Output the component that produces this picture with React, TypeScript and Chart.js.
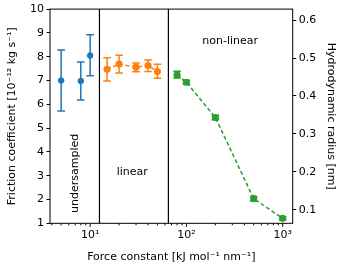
import React, { useEffect, useRef } from "react";
import { Chart, registerables } from "chart.js";
Chart.register(...registerables);

const blueX = [5, 8, 10];
const blueY = [7.0, 6.98, 8.05];
const blueLow = [5.72, 6.18, 7.2];
const blueHigh = [8.28, 7.78, 8.92];

const orangeX = [15, 20, 30, 40, 50];
const orangeY = [7.47, 7.69, 7.56, 7.63, 7.38];
const orangeLow = [6.98, 7.32, 7.37, 7.38, 7.09];
const orangeHigh = [7.96, 8.06, 7.74, 7.86, 7.68];

const greenX = [80, 100, 200, 500, 1000];
const greenY = [0.456, 0.436, 0.343, 0.129, 0.077];
const greenLow = [0.447, 0.431, 0.337, 0.123, 0.073];
const greenHigh = [0.465, 0.441, 0.349, 0.135, 0.081];

const regionBounds = [12.5, 65];
const regionLabels = ["undersampled", "linear", "non-linear"];
const regionLabelX = [6.98, 27.4, 285];
const regionLabelY = [3.1, 3.17, 8.66];
const regionLabelVertical = [true, false, false];

const xMajorTicks = [10, 100, 1000];
const xMajorLabels = ["10¹", "10²", "10³"];
const xMinorTicks = [4, 5, 6, 7, 8, 9, 20, 30, 40, 50, 60, 70, 80, 90, 200, 300, 400, 500, 600, 700, 800, 900];
const leftTicks = [1, 2, 3, 4, 5, 6, 7, 8, 9, 10];
const rightTicks = [0.1, 0.2, 0.3, 0.4, 0.5, 0.6];

const xMin = 3.83;
const xMax = 1271;
const yMin = 1;
const yMax = 10;
const y2Min = 0.064;
const y2Max = 0.629;

const FONT = "DejaVu Sans";
const BLUE = "#1f77b4";
const ORANGE = "#ff7f0e";
const GREEN = "#2ca02c";

const toPts = (xs: number[], ys: number[]) => xs.map((x, i) => ({ x, y: ys[i] }));

const overlay = {
  id: "overlay",
  beforeDatasetsDraw(chart: any) {
    const { ctx, chartArea: a, scales } = chart;
    const x = scales.x;
    ctx.save();
    ctx.strokeStyle = "#000";
    ctx.lineWidth = 1.2;
    for (const b of regionBounds) {
      const px = x.getPixelForValue(b);
      ctx.beginPath();
      ctx.moveTo(px, a.top);
      ctx.lineTo(px, a.bottom);
      ctx.stroke();
    }
    const drawErr = (xs: number[], lo: number[], hi: number[], ys: any, color: string) => {
      ctx.strokeStyle = color;
      ctx.lineWidth = 1.5;
      for (let i = 0; i < xs.length; i++) {
        const px = x.getPixelForValue(xs[i]);
        const p1 = ys.getPixelForValue(lo[i]);
        const p2 = ys.getPixelForValue(hi[i]);
        ctx.beginPath();
        ctx.moveTo(px, p1);
        ctx.lineTo(px, p2);
        ctx.moveTo(px - 3.8, p1);
        ctx.lineTo(px + 3.8, p1);
        ctx.moveTo(px - 3.8, p2);
        ctx.lineTo(px + 3.8, p2);
        ctx.stroke();
      }
    };
    drawErr(blueX, blueLow, blueHigh, scales.y, BLUE);
    drawErr(orangeX, orangeLow, orangeHigh, scales.y, ORANGE);
    drawErr(greenX, greenLow, greenHigh, scales.y2, GREEN);
    ctx.restore();
  },
  afterDraw(chart: any) {
    const { ctx, chartArea: a, scales } = chart;
    const x = scales.x;
    const y = scales.y;
    ctx.save();
    ctx.strokeStyle = "#000";
    ctx.lineWidth = 1;
    ctx.strokeRect(a.left, a.top, a.right - a.left, a.bottom - a.top);
    ctx.beginPath();
    for (const t of xMajorTicks) {
      const px = x.getPixelForValue(t);
      ctx.moveTo(px, a.bottom);
      ctx.lineTo(px, a.bottom + 3.5);
    }
    for (const t of xMinorTicks) {
      const px = x.getPixelForValue(t);
      ctx.moveTo(px, a.bottom);
      ctx.lineTo(px, a.bottom + 2);
    }
    ctx.stroke();
    ctx.fillStyle = "#000";
    ctx.font = `11px '${FONT}'`;
    ctx.textAlign = "center";
    ctx.textBaseline = "middle";
    for (let i = 0; i < regionLabels.length; i++) {
      const px = x.getPixelForValue(regionLabelX[i]);
      const py = y.getPixelForValue(regionLabelY[i]);
      ctx.save();
      ctx.translate(px, py);
      if (regionLabelVertical[i]) ctx.rotate(-Math.PI / 2);
      ctx.fillText(regionLabels[i], 0, 0);
      ctx.restore();
    }
    ctx.restore();
  },
};

export default function App() {
  const ref = useRef<HTMLCanvasElement>(null);
  useEffect(() => {
    if (!ref.current) return;
    const font = { family: FONT, size: 11 };
    const chart = new Chart(ref.current, {
      type: "scatter",
      data: {
        datasets: [
          {
            data: toPts(blueX, blueY),
            yAxisID: "y",
            backgroundColor: BLUE,
            borderColor: BLUE,
            pointRadius: 2.8,
            showLine: false,
          },
          {
            data: toPts(orangeX, orangeY),
            yAxisID: "y",
            backgroundColor: ORANGE,
            borderColor: ORANGE,
            pointRadius: 2.8,
            showLine: true,
            borderWidth: 1.5,
            borderDash: [4, 2.5],
          },
          {
            data: toPts(greenX, greenY),
            yAxisID: "y2",
            backgroundColor: GREEN,
            borderColor: GREEN,
            pointRadius: 2.8,
            showLine: true,
            borderWidth: 1.5,
            borderDash: [4, 2.5],
          },
        ],
      },
      options: {
        responsive: false,
        animation: false,
        layout: { padding: { top: 6, left: 0, right: 0, bottom: 0 } },
        plugins: { legend: { display: false }, tooltip: { enabled: false } },
        scales: {
          x: {
            type: "logarithmic",
            min: xMin,
            max: xMax,
            border: { display: false },
            grid: { display: false, drawTicks: true, tickLength: 3.5 },
            afterBuildTicks: (s: any) => {
              s.ticks = xMajorTicks.map((v) => ({ value: v, major: true }));
            },
            afterFit: (s: any) => {
              s.height = 52.7;
            },
            ticks: {
              autoSkip: false,
              maxRotation: 0,
              color: "#000",
              font,
              padding: 2,
              callback: (v: any) => {
                const i = xMajorTicks.indexOf(Number(v));
                return i >= 0 ? xMajorLabels[i] : "";
              },
            },
            title: {
              display: true,
              text: "Force constant [kJ mol⁻¹ nm⁻¹]",
              color: "#000",
              font,
              padding: { top: 0, bottom: 12.7 },
            },
          },
          y: {
            type: "linear",
            position: "left",
            min: yMin,
            max: yMax,
            border: { display: false },
            grid: { drawOnChartArea: false, color: "#000", tickLength: 3.5, lineWidth: 1 },
            afterBuildTicks: (s: any) => {
              s.ticks = leftTicks.map((v) => ({ value: v }));
            },
            afterFit: (s: any) => {
              s.width = 50;
            },
            ticks: { color: "#000", font, padding: 2.5, callback: (v: any) => String(v) },
            title: {
              display: true,
              text: "Friction coefficient [10⁻¹² kg s⁻¹]",
              color: "#000",
              font,
              padding: { top: 5.9, bottom: 0 },
            },
          },
          y2: {
            type: "linear",
            position: "right",
            min: y2Min,
            max: y2Max,
            border: { display: false },
            grid: { drawOnChartArea: false, color: "#000", tickLength: 3.5, lineWidth: 1 },
            afterBuildTicks: (s: any) => {
              s.ticks = rightTicks.map((v) => ({ value: v }));
            },
            afterFit: (s: any) => {
              s.width = 46.3;
            },
            ticks: { color: "#000", font, padding: 2.5, callback: (v: any) => Number(v).toFixed(1) },
            title: {
              display: true,
              text: "Hydrodynamic radius [nm]",
              color: "#000",
              font,
              padding: { top: 1.4, bottom: 0 },
            },
          },
        },
      },
      plugins: [overlay],
    } as any);
    return () => chart.destroy();
  }, []);
  return (
    <div style={{ position: "fixed", left: 0, top: 0, width: 339, height: 276, background: "#fff" }}>
      <canvas ref={ref} width={339} height={276} style={{ display: "block" }} />
    </div>
  );
}
